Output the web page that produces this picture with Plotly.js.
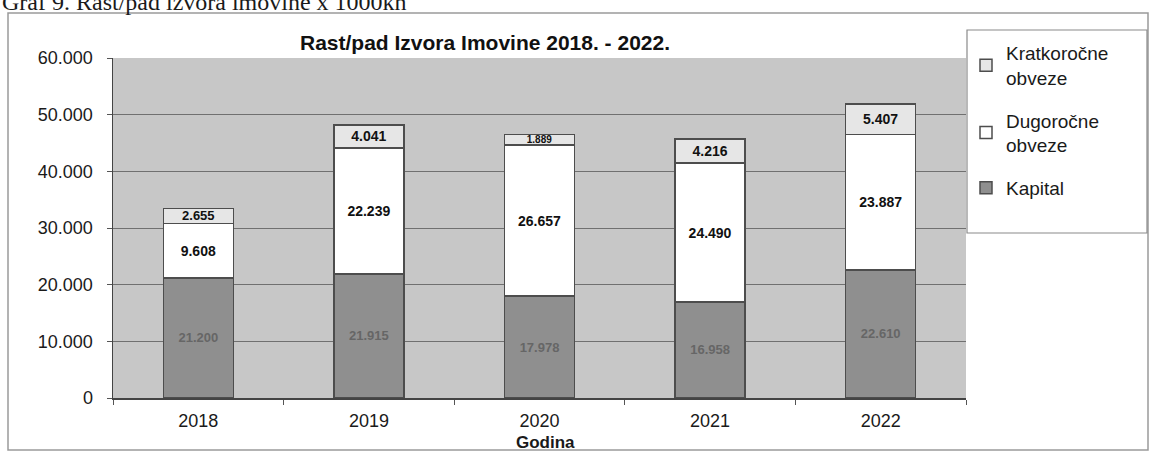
<!DOCTYPE html>
<html>
<head>
<meta charset="utf-8">
<script src="https://cdn.plot.ly/plotly-3.0.1.min.js"></script>
<style>
html,body{margin:0;padding:0;background:#fff;}
#chart{width:1150px;height:452px;}
</style>
</head>
<body>
<div id="chart"></div>
<script>
var years = ['2018', '2019', '2020', '2021', '2022'];
var kapital = [21200, 21915, 17978, 16958, 22610];
var dugorocne = [9608, 22239, 26657, 24490, 23887];
var kratkorocne = [2655, 4041, 1889, 4216, 5407];
var seriesNames = ['Kapital', 'Dugoročne<br>obveze', 'Kratkoročne<br>obveze'];
var yTicks = [0, 10000, 20000, 30000, 40000, 50000, 60000];
var chartTitle = 'Rast/pad Izvora Imovine 2018. - 2022.';
var captionText = 'Graf 9. Rast/pad izvora imovine x 1000kn';
var xTitle = 'Godina';

var FONT = 'Liberation Sans, Arial, sans-serif';
var L = 113, R = 966, T = 58, B = 398;
function px(x){ return (x - L) / (R - L); }
function py(y){ return (B - y) / (B - T); }

var common = {
  type: 'bar',
  x: years,
  width: 0.41,
  textposition: 'inside',
  insidetextanchor: 'middle',
  constraintext: 'none',
  textangle: 0,
  texttemplate: '%{y:,.0f}',
  hoverinfo: 'skip',
  cliponaxis: false
};

var traces = [
  Object.assign({}, common, {
    name: seriesNames[0], y: kapital, legendgroup: 'g3', legendrank: 3,
    marker: {color: '#8f8f8f', line: {color: '#4d4d4d', width: 1.5}},
    textfont: {family: FONT, size: 13, color: '#666666', weight: 'bold'}
  }),
  Object.assign({}, common, {
    name: seriesNames[1], y: dugorocne, legendgroup: 'g2', legendrank: 2,
    marker: {color: '#ffffff', line: {color: '#4d4d4d', width: 1.5}},
    textfont: {family: FONT, size: 14, color: '#111111', weight: 'bold'}
  }),
  Object.assign({}, common, {
    name: seriesNames[2], y: kratkorocne, legendgroup: 'g1', legendrank: 1,
    marker: {color: '#e6e6e6', line: {color: '#4d4d4d', width: 1.5}},
    textfont: {family: FONT, size: [13, 14, 10, 14, 14], color: '#111111', weight: 'bold'}
  })
];

var layout = {
  width: 1150, height: 452,
  margin: {l: L, r: 1150 - R, t: T, b: 452 - B, pad: 0},
  paper_bgcolor: '#ffffff',
  plot_bgcolor: '#c7c7c7',
  barmode: 'stack',
  separators: ',.',
  showlegend: true,
  font: {family: FONT, color: '#1a1a1a'},
  xaxis: {
    type: 'category',
    tickson: 'boundaries',
    ticks: 'outside', ticklen: 5, tickcolor: '#555', tickwidth: 1,
    showline: true, linecolor: '#444', linewidth: 1.5,
    showgrid: false,
    tickfont: {family: FONT, size: 18, color: '#1a1a1a'},
    ticklabelstandoff: 6,
    fixedrange: true
  },
  yaxis: {
    range: [0, 60000],
    tickvals: yTicks,
    tickformat: ',.0f',
    ticks: 'outside', ticklen: 5, tickcolor: '#555', tickwidth: 1,
    showline: true, linecolor: '#444', linewidth: 1.5,
    showgrid: true, gridcolor: '#707070', gridwidth: 1,
    zeroline: false,
    tickfont: {family: FONT, size: 18, color: '#1a1a1a'},
    ticklabelstandoff: 10,
    fixedrange: true
  },
  legend: {
    x: px(966), y: py(34), xanchor: 'left', yanchor: 'top',
    bgcolor: 'rgba(0,0,0,0)', borderwidth: 0,
    traceorder: 'grouped',
    font: {family: FONT, size: 19, color: '#1a1a1a'},
    itemwidth: 30,
    tracegroupgap: 15
  },
  shapes: [
    {type: 'rect', xref: 'paper', yref: 'paper',
     x0: px(8), x1: px(1148), y0: py(450), y1: py(13),
     line: {color: '#9a9a9a', width: 1.5}, fillcolor: 'rgba(0,0,0,0)', layer: 'below'},
    {type: 'rect', xref: 'paper', yref: 'paper',
     x0: px(967), x1: px(1147), y0: py(233), y1: py(30),
     line: {color: '#8a8a8a', width: 1.2}, fillcolor: '#ffffff', layer: 'below'}
  ],
  annotations: [
    {xref: 'paper', yref: 'paper', x: px(485), y: py(43), xanchor: 'center', yanchor: 'middle',
     text: '<b>' + chartTitle + '</b>', showarrow: false,
     font: {family: FONT, size: 21, color: '#111'}},
    {xref: 'paper', yref: 'paper', x: px(545), y: py(442), xanchor: 'center', yanchor: 'middle',
     text: '<b>' + xTitle + '</b>', showarrow: false,
     font: {family: FONT, size: 17, color: '#1a1a1a'}},
    {xref: 'paper', yref: 'paper', x: px(0), y: py(17), xanchor: 'left', yanchor: 'bottom',
     text: captionText, showarrow: false,
     font: {family: 'Liberation Serif, Times New Roman, serif', size: 24, color: '#1a1a1a'}}
  ]
};

Plotly.newPlot('chart', traces, layout, {displayModeBar: false, staticPlot: true});
</script>
</body>
</html>
